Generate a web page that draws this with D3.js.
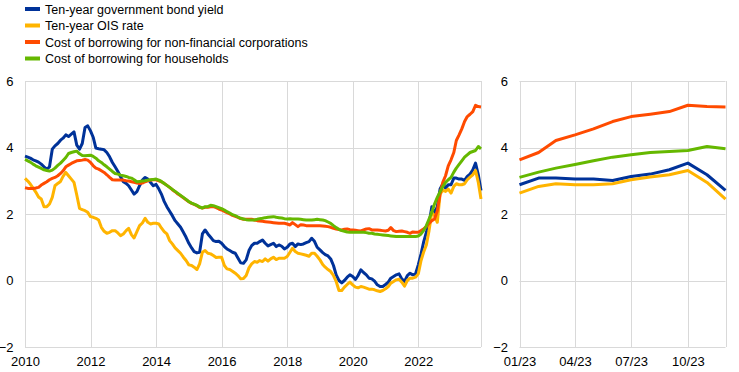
<!DOCTYPE html>
<html>
<head>
<meta charset="utf-8">
<script src="https://cdn.jsdelivr.net/npm/d3@7"></script>
<style>
  html, body { margin: 0; padding: 0; background: #fff; }
  svg { display: block; font-family: "Liberation Sans", Arial, sans-serif; }
</style>
</head>
<body>
<svg id="chart" width="739" height="372"></svg>
<script>
// ---------------- DATA ----------------
const startMonth = "2010-01";   // monthly observations, Jan 2010 .. Dec 2023
const seriesNames = [
  "Ten-year government bond yield",
  "Ten-year OIS rate",
  "Cost of borrowing for non-financial corporations",
  "Cost of borrowing for households"
];
const seriesColors = ["#003299", "#ffb400", "#ff4b00", "#65b800"];

const bondYield = [
  3.74,3.71,3.68,3.63,3.60,3.56,3.50,3.42,3.35,3.42,3.95,4.05,
  4.12,4.22,4.28,4.38,4.33,4.40,4.47,4.07,3.95,4.12,4.60,4.65,
  4.50,4.30,3.98,3.96,3.95,3.93,3.85,3.72,3.55,3.42,3.28,3.12,
  2.97,2.92,2.85,2.72,2.60,2.67,2.85,3.02,3.10,3.05,2.95,2.85,
  2.89,2.75,2.60,2.38,2.22,2.08,1.95,1.80,1.70,1.60,1.45,1.30,
  1.12,0.98,0.87,0.83,0.85,1.40,1.52,1.40,1.30,1.20,1.17,1.18,
  1.12,1.02,0.95,0.90,0.85,0.82,0.68,0.53,0.52,0.62,0.90,1.05,
  1.12,1.12,1.17,1.22,1.12,1.04,1.08,1.12,1.02,1.07,1.03,0.95,
  1.00,1.10,1.12,1.02,1.10,1.08,1.10,1.14,1.17,1.27,1.18,1.00,
  0.92,0.84,0.78,0.74,0.65,0.45,0.17,0.00,-0.07,0.00,0.10,0.17,
  0.12,0.03,0.15,0.32,0.24,0.17,0.07,0.05,-0.02,-0.13,-0.18,-0.18,
  -0.12,-0.05,0.07,0.12,0.17,0.20,0.05,-0.03,0.15,0.22,0.17,0.20,
  0.47,0.80,1.15,1.45,1.70,2.22,2.02,2.22,2.75,2.90,2.78,2.88,
  2.88,3.08,3.08,3.05,3.05,3.01,3.13,3.20,3.33,3.53,3.18,2.71
];
const oisRate = [
  3.07,2.99,2.90,2.78,2.66,2.51,2.45,2.22,2.22,2.30,2.50,2.85,
  2.92,2.98,3.13,3.25,3.15,3.05,2.95,2.57,2.17,2.13,2.10,2.05,
  1.92,1.90,1.87,1.82,1.60,1.48,1.42,1.45,1.50,1.50,1.43,1.35,
  1.40,1.50,1.57,1.38,1.28,1.47,1.65,1.73,1.87,1.75,1.70,1.72,
  1.72,1.70,1.58,1.47,1.40,1.20,1.10,0.98,0.90,0.82,0.70,0.60,
  0.47,0.45,0.40,0.33,0.50,0.85,0.90,0.82,0.80,0.75,0.69,0.70,
  0.70,0.45,0.35,0.33,0.28,0.22,0.15,0.05,0.06,0.15,0.38,0.50,
  0.57,0.55,0.60,0.57,0.65,0.58,0.65,0.70,0.63,0.67,0.67,0.67,
  0.72,0.85,0.97,0.87,0.82,0.80,0.78,0.76,0.73,0.82,0.82,0.73,
  0.62,0.48,0.40,0.33,0.27,0.15,-0.03,-0.30,-0.30,-0.20,-0.12,-0.05,
  -0.13,-0.20,-0.22,-0.18,-0.20,-0.23,-0.26,-0.26,-0.28,-0.31,-0.33,-0.30,
  -0.25,-0.18,-0.08,-0.03,0.02,0.04,-0.05,-0.17,0.00,0.07,0.07,0.10,
  0.20,0.60,0.85,1.07,1.50,2.05,1.95,1.75,2.60,2.72,2.68,2.75,
  2.63,2.83,2.91,2.88,2.88,2.91,3.03,3.11,3.18,3.31,2.95,2.45
];
const nfcCost = [
  2.79,2.77,2.77,2.77,2.78,2.80,2.87,2.92,2.97,3.03,3.07,3.10,
  3.15,3.22,3.30,3.42,3.47,3.52,3.56,3.60,3.61,3.62,3.64,3.62,
  3.55,3.45,3.38,3.35,3.30,3.25,3.18,3.10,3.03,3.02,3.02,3.02,
  3.02,3.00,2.99,2.97,2.95,2.93,2.92,2.93,2.97,3.00,3.02,3.03,
  3.03,3.00,2.97,2.92,2.86,2.80,2.73,2.67,2.60,2.55,2.49,2.43,
  2.37,2.32,2.29,2.25,2.20,2.18,2.20,2.20,2.22,2.22,2.19,2.15,
  2.12,2.08,2.04,2.00,1.96,1.93,1.90,1.86,1.84,1.84,1.84,1.84,
  1.82,1.80,1.79,1.78,1.77,1.76,1.75,1.74,1.73,1.72,1.72,1.72,
  1.70,1.67,1.74,1.68,1.62,1.68,1.67,1.65,1.65,1.65,1.65,1.65,
  1.65,1.64,1.63,1.62,1.60,1.57,1.55,1.53,1.52,1.54,1.55,1.53,
  1.52,1.51,1.50,1.49,1.52,1.55,1.56,1.52,1.52,1.52,1.51,1.50,
  1.49,1.51,1.59,1.50,1.47,1.48,1.49,1.47,1.45,1.42,1.46,1.45,
  1.45,1.50,1.55,1.62,1.72,1.80,1.85,2.10,2.60,2.95,3.15,3.45,
  3.63,3.85,4.21,4.38,4.56,4.78,4.93,5.00,5.08,5.27,5.23,5.22
];
const hhCost = [
  3.64,3.60,3.56,3.50,3.45,3.41,3.37,3.33,3.31,3.29,3.32,3.38,
  3.46,3.53,3.61,3.70,3.82,3.85,3.87,3.89,3.81,3.76,3.75,3.76,
  3.77,3.73,3.68,3.60,3.55,3.48,3.42,3.35,3.28,3.22,3.20,3.17,
  3.15,3.13,3.10,3.08,3.03,2.97,2.98,2.99,3.00,3.02,3.03,3.04,
  3.05,3.02,2.98,2.92,2.86,2.80,2.74,2.68,2.62,2.56,2.50,2.44,
  2.37,2.33,2.30,2.26,2.21,2.18,2.22,2.22,2.26,2.25,2.22,2.19,
  2.16,2.12,2.07,2.03,1.98,1.95,1.91,1.87,1.85,1.83,1.82,1.82,
  1.82,1.84,1.86,1.87,1.89,1.90,1.91,1.92,1.90,1.89,1.88,1.86,
  1.85,1.86,1.85,1.85,1.85,1.84,1.83,1.82,1.82,1.82,1.83,1.84,
  1.83,1.82,1.80,1.76,1.72,1.65,1.59,1.54,1.50,1.48,1.46,1.45,
  1.45,1.45,1.45,1.45,1.45,1.44,1.42,1.42,1.40,1.39,1.38,1.37,
  1.36,1.35,1.34,1.33,1.32,1.32,1.32,1.32,1.32,1.32,1.32,1.32,
  1.34,1.40,1.50,1.65,1.85,2.05,2.30,2.50,2.67,2.82,2.95,3.03,
  3.10,3.26,3.38,3.49,3.60,3.71,3.78,3.85,3.88,3.91,4.03,3.96
];

const yTicks = [-2, 0, 2, 4, 6];
const leftTickYears = [2010, 2012, 2014, 2016, 2018, 2020, 2022];
const rightTickLabels = ["01/23", "04/23", "07/23", "10/23"];
const rightTickMonths = ["2023-01", "04/23" && "2023-04", "2023-07", "2023-10"];

// ---------------- SETUP ----------------
const parseMonth = d3.timeParse("%Y-%m");
const start = parseMonth(startMonth);
const allSeries = [bondYield, oisRate, nfcCost, hhCost];
const nMonths = bondYield.length;
const dates = d3.range(nMonths).map(i => d3.timeMonth.offset(start, i));
const recentStart = nMonths - 12;

const svg = d3.select("#chart");
svg.append("rect").attr("width", 739).attr("height", 372).attr("fill", "#fff");

const gridColor = "#d9d9d9";
const fontSize = 13;

const y = d3.scaleLinear().domain([-2, 6]).range([347, 81]);

const panels = [
  {
    x: d3.scaleTime().domain([dates[0], dates[nMonths - 1]]).range([25, 481]),
    idx: d3.range(0, nMonths),
    ticks: leftTickYears.map(yr => new Date(yr, 0, 1)),
    fmt: d => String(d.getFullYear())
  },
  {
    x: d3.scaleTime().domain([dates[recentStart], dates[nMonths - 1]]).range([519.5, 725.5]),
    idx: d3.range(recentStart, nMonths),
    ticks: rightTickMonths.map(parseMonth),
    fmt: (d, i) => rightTickLabels[i]
  }
];

panels.forEach(p => {
  const [x0, x1] = p.x.range();
  const g = svg.append("g");

  // horizontal grid
  g.selectAll("line.h").data(yTicks).join("line")
    .attr("x1", x0).attr("x2", x1)
    .attr("y1", d => Math.round(y(d)) + 0.5).attr("y2", d => Math.round(y(d)) + 0.5)
    .attr("stroke", gridColor).attr("stroke-width", 1);

  // vertical grid (ticks + right edge)
  const vx = p.ticks.map(d => p.x(d)).concat([x1]);
  g.selectAll("line.v").data(vx).join("line")
    .attr("x1", d => Math.round(d) + 0.5).attr("x2", d => Math.round(d) + 0.5)
    .attr("y1", y(6)).attr("y2", y(-2))
    .attr("stroke", gridColor).attr("stroke-width", 1);

  // y axis labels
  const ya = svg.append("g").attr("transform", `translate(${x0},0)`)
    .call(d3.axisLeft(y).tickValues(yTicks).tickSize(0).tickPadding(11.5).tickFormat(d3.format("d")));
  ya.select(".domain").remove();
  ya.selectAll("text").attr("font-size", fontSize).attr("font-family", "Liberation Sans, Arial, sans-serif").attr("fill", "#000");

  // x axis labels
  const xa = svg.append("g").attr("transform", `translate(0,${y(-2)})`)
    .call(d3.axisBottom(p.x).tickValues(p.ticks).tickSize(0).tickPadding(10).tickFormat(p.fmt));
  xa.select(".domain").remove();
  xa.selectAll("text").attr("font-size", fontSize).attr("font-family", "Liberation Sans, Arial, sans-serif").attr("fill", "#000");

  // lines
  const line = d3.line().x(i => p.x(dates[i]));
  allSeries.forEach((s, k) => {
    svg.append("path")
      .attr("d", line.y(i => y(s[i]))(p.idx))
      .attr("fill", "none")
      .attr("stroke", seriesColors[k])
      .attr("stroke-width", 3)
      .attr("stroke-linejoin", "round")
      .attr("stroke-linecap", "butt");
  });
});

// legend
const legend = svg.append("g");
seriesNames.forEach((name, k) => {
  const cy = 9 + k * 16.5;
  legend.append("rect").attr("x", 25).attr("y", cy - 2).attr("width", 15).attr("height", 4)
    .attr("fill", seriesColors[k]);
  legend.append("text").attr("x", 45).attr("y", cy + 4.5)
    .attr("font-size", 12.5).attr("fill", "#000").text(name);
});
</script>
</body>
</html>
